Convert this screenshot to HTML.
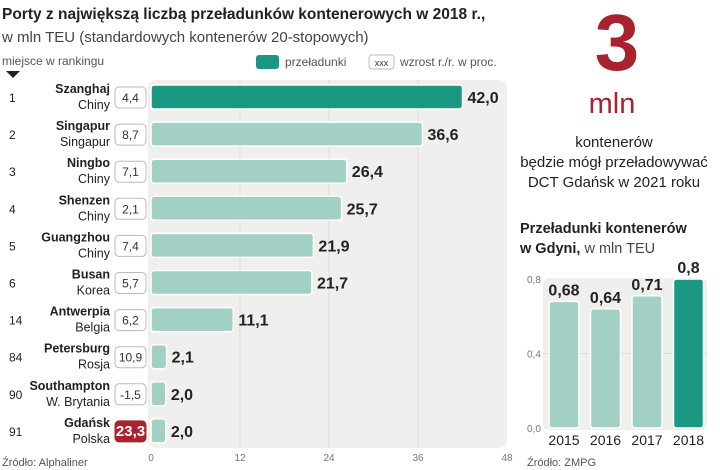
<!DOCTYPE html>
<html><head><meta charset="utf-8">
<style>
body{margin:0;background:#fff;width:720px;height:470px;overflow:hidden;font-family:"Liberation Sans",sans-serif}
svg{display:block}
</style></head>
<body>
<svg id="c" width="720" height="470" xmlns="http://www.w3.org/2000/svg">
<text x="2" y="19" font-size="15.5" font-weight="bold" fill="#222">Porty z największą liczbą przeładunków kontenerowych w 2018 r.,</text>
<text x="2" y="42" font-size="15" fill="#444">w mln TEU (standardowych kontenerów 20-stopowych)</text>
<text x="2" y="65" font-size="12" fill="#555">miejsce w rankingu</text>
<path d="M6 71 L20 71 L13 78 Z" fill="#222"/>
<rect x="256" y="55" width="23" height="14" rx="3" fill="#1a9882"/>
<text x="285" y="66" font-size="12" fill="#555">przeładunki</text>
<rect x="369" y="55" width="25" height="14" rx="3" fill="#fff" stroke="#bbb"/>
<text x="381.5" y="66" font-size="9" fill="#333" text-anchor="middle">xxx</text>
<text x="400" y="66" font-size="12" fill="#555">wzrost r./r. w proc.</text>
<rect x="148" y="80" width="359" height="368" rx="8" fill="#efefed"/>
<g id="grid"></g><g id="bars"></g>
<text x="2" y="466" font-size="11" fill="#555">Źródło: Alphaliner</text>

<text x="617" y="70" font-size="80" fill="#a8232f" text-anchor="middle" font-weight="bold">3</text>
<text x="612" y="113" font-size="29" fill="#a8232f" text-anchor="middle">mln</text>
<text x="614" y="147" font-size="15" fill="#222" text-anchor="middle">kontenerów</text>
<text x="614" y="167" font-size="15" fill="#222" text-anchor="middle">będzie mógł przeładowywać</text>
<text x="614" y="187" font-size="15" fill="#222" text-anchor="middle">DCT Gdańsk w 2021 roku</text>
<text x="520" y="233" font-size="14.5" font-weight="bold" fill="#222">Przeładunki kontenerów</text>
<text x="520" y="253" font-size="14.5" fill="#444"><tspan font-weight="bold" fill="#222">w Gdyni,</tspan> w mln TEU</text>
<rect x="543" y="278" width="164" height="152" rx="6" fill="#efefed"/>
<g id="g2"></g>
<text x="527" y="466" font-size="11" fill="#555">Źródło: ZMPG</text>
</svg>
<script>
const ranks=["1","2","3","4","5","6","14","84","90","91"];
const ports=["Szanghaj","Singapur","Ningbo","Shenzen","Guangzhou","Busan","Antwerpia","Petersburg","Southampton","Gdańsk"];
const countries=["Chiny","Singapur","Chiny","Chiny","Chiny","Korea","Belgia","Rosja","W. Brytania","Polska"];
const volumes=[42.0,36.6,26.4,25.7,21.9,21.7,11.1,2.1,2.0,2.0];
const growth=["4,4","8,7","7,1","2,1","7,4","5,7","6,2","10,9","-1,5","23,3"];
const xTicks=[0,12,24,36,48];
const years=["2015","2016","2017","2018"];
const gdynia=[0.68,0.64,0.71,0.8];
const yTicks=[0,0.4,0.8];

const NS="http://www.w3.org/2000/svg";
function mk(p,t,a,txt){const e=document.createElementNS(NS,t);for(const k in a)e.setAttribute(k,a[k]);if(txt!=null)e.textContent=txt;p.appendChild(e);return e;}
const fmt=v=>v.toFixed(1).replace('.',',');
const x=v=>151+v*(507-151)/48;
const y=i=>97+i*37.1;
const grid=document.getElementById('grid'),bars=document.getElementById('bars');
xTicks.forEach(t=>{
 if(t>0&&t<48){const l=mk(grid,'line',{x1:x(t),x2:x(t),y1:80,y2:448,stroke:'#dcdcda'});
 
 }
 const tx=mk(grid,'text',{x:x(t),y:461,'font-size':10,fill:'#777','text-anchor':'middle'},String(t));
 
 
});
volumes.forEach((v,i)=>{
 const cy=y(i);
 const r=mk(bars,'text',{x:9,y:cy+5,'font-size':12,fill:'#222'},ranks[i]);
 
 
 const p=mk(bars,'text',{x:110,y:cy-4,'font-size':12.5,'font-weight':'bold',fill:'#222','text-anchor':'end'},ports[i]);
 
 
 const c=mk(bars,'text',{x:110,y:cy+12,'font-size':12.5,fill:'#222','text-anchor':'end'},countries[i]);
 
 
 const red=i===9;
 const gb=mk(bars,'rect',{x:115,y:cy-10,width:31,height:21,rx:4,fill:red?'#a8232f':'#fff',stroke:red?'#a8232f':'#bbb'});
 
 
 const gt=mk(bars,'text',{x:130.5,y:cy+5,'font-size':red?15:12,'font-weight':red?'bold':'normal',fill:red?'#fff':'#333','text-anchor':'middle'},growth[i]);
 
 
 const b=mk(bars,'rect',{x:x(0),y:cy-12,width:x(v)-x(0),height:24,rx:3,fill:i===0?'#1a9882':'#a3d0c5',stroke:'#fff','stroke-width':1.5});
 
 
 const vt=mk(bars,'text',{x:x(v)+5,y:cy+6,'font-size':16,'font-weight':'bold',fill:'#222'},fmt(v));
 
 
});
const g2=document.getElementById('g2');
const yy=v=>428-v*(428-279)/0.8;
yTicks.forEach(t=>{
 if(t===0.4){const l=mk(g2,'line',{x1:543,x2:707,y1:yy(t),y2:yy(t),stroke:'#dcdcda'});
 
 }
 const tx=mk(g2,'text',{x:527,y:yy(t)+4,'font-size':10,fill:'#777'},t.toFixed(1).replace('.',','));
 
 
});
gdynia.forEach((v,i)=>{
 const bx=549+i*41.5;
 const b=mk(g2,'rect',{x:bx,y:yy(v),width:30,height:yy(0)-yy(v),rx:3,fill:i===3?'#1a9882':'#a3d0c5',stroke:'#fff','stroke-width':1.5});
 
 
 const vt=mk(g2,'text',{x:bx+15,y:yy(v)-6,'font-size':16,'font-weight':'bold',fill:'#222','text-anchor':'middle'},String(v).replace('.',','));
 
 
 const yt=mk(g2,'text',{x:bx+15,y:445,'font-size':14,fill:'#222','text-anchor':'middle'},years[i]);
 
 
});
</script>
</body></html>
